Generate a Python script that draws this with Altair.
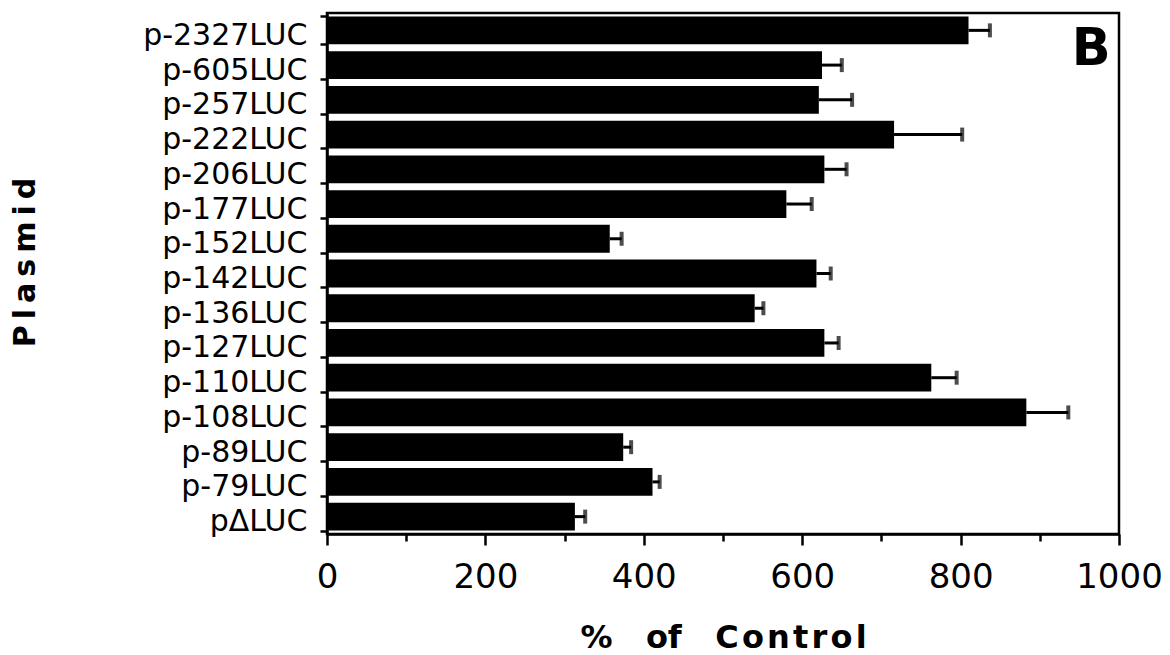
import altair as alt
import pandas as pd

plasmids = ["p-2327LUC", "p-605LUC", "p-257LUC", "p-222LUC", "p-206LUC",
            "p-177LUC", "p-152LUC", "p-142LUC", "p-136LUC", "p-127LUC",
            "p-110LUC", "p-108LUC", "p-89LUC", "p-79LUC", "p\u0394LUC"]
means = [810, 625, 621, 716, 628, 580, 357, 618, 540, 628, 763, 883, 374, 411, 313]
errors = [27, 25, 42, 86, 28, 32, 15, 18, 11, 18, 32, 53, 10, 9, 13]

df = pd.DataFrame({"plasmid": plasmids, "mean": means, "err": errors})
df["hi"] = df["mean"] + df["err"]

FONT = "DejaVu Sans"

x_scale = alt.Scale(domain=[0, 1000], nice=False, zero=True)
x_axis = alt.Axis(
    title="%\u00a0\u00a0\u00a0of\u00a0\u00a0\u00a0C\u200ao\u200an\u200at\u200ar\u200ao\u200al",
    values=list(range(0, 1001, 100)),
    labelExpr="datum.value % 200 === 0 ? datum.label : ''",
    format="d",
    grid=False,
    tickSize={"condition": {"test": "datum.value % 200 === 0", "value": 11}, "value": 7},
    tickWidth=2.5, tickColor="black",
    domainColor="black", domainWidth=2.5,
    labelFont=FONT, labelFontSize=34, labelColor="black", labelPadding=15,
    labelFlush=False, labelOverlap=False,
    titleFont=FONT, titleFontSize=32, titleFontWeight="bold", titleColor="black",
    titleX=396, titleY=113, titleBaseline="alphabetic", titleAlign="center",
)

y_enc = alt.Y(
    "plasmid:N", sort=plasmids,
    scale=alt.Scale(paddingInner=0.2, paddingOuter=0.1),
    axis=alt.Axis(
        title="P\u2009l\u2009a\u2009s\u2009m\u2009i\u2009d",
        tickBand="extent", tickSize=7, tickWidth=2.5, tickColor="black",
        domainColor="black", domainWidth=2.5, grid=False,
        labelFont=FONT, labelFontSize=30, labelColor="black",
        labelPadding=13, labelOffset=5, labelLimit=400,
        titleFont=FONT, titleFontSize=30, titleFontWeight="bold", titleColor="black",
        titleX=-302, titleY=249, titleAngle=270,
        titleAlign="center", titleBaseline="middle",
    ),
)

base = alt.Chart(df)

bars = base.mark_bar(color="black").encode(
    x=alt.X("mean:Q", scale=x_scale, axis=x_axis),
    y=y_enc,
)

rules = base.mark_rule(color="black", strokeWidth=3).encode(
    x=alt.X("mean:Q", scale=x_scale, axis=x_axis),
    x2="hi:Q",
    y=y_enc,
)

caps = base.mark_tick(color="black", thickness=4, size=14).encode(
    x=alt.X("hi:Q", scale=x_scale, axis=x_axis),
    y=y_enc,
)

label_b = alt.Chart(pd.DataFrame({"t": ["B"]})).mark_text(
    font=FONT, fontSize=51, fontWeight="bold", color="black",
    align="center", baseline="alphabetic",
).encode(
    x=alt.datum(965),
    y=alt.value(52),
    text="t:N",
)

chart = alt.layer(bars, rules, caps, label_b).properties(
    width=792, height=521,
    autosize=alt.AutoSizeParams(type="none"),
    padding={"left": 327, "top": 13, "right": 51, "bottom": 121},
    background="white",
).configure_view(stroke="black", strokeWidth=2.5)

chart.save("out.html", embed_options={"renderer": "svg", "actions": False})
